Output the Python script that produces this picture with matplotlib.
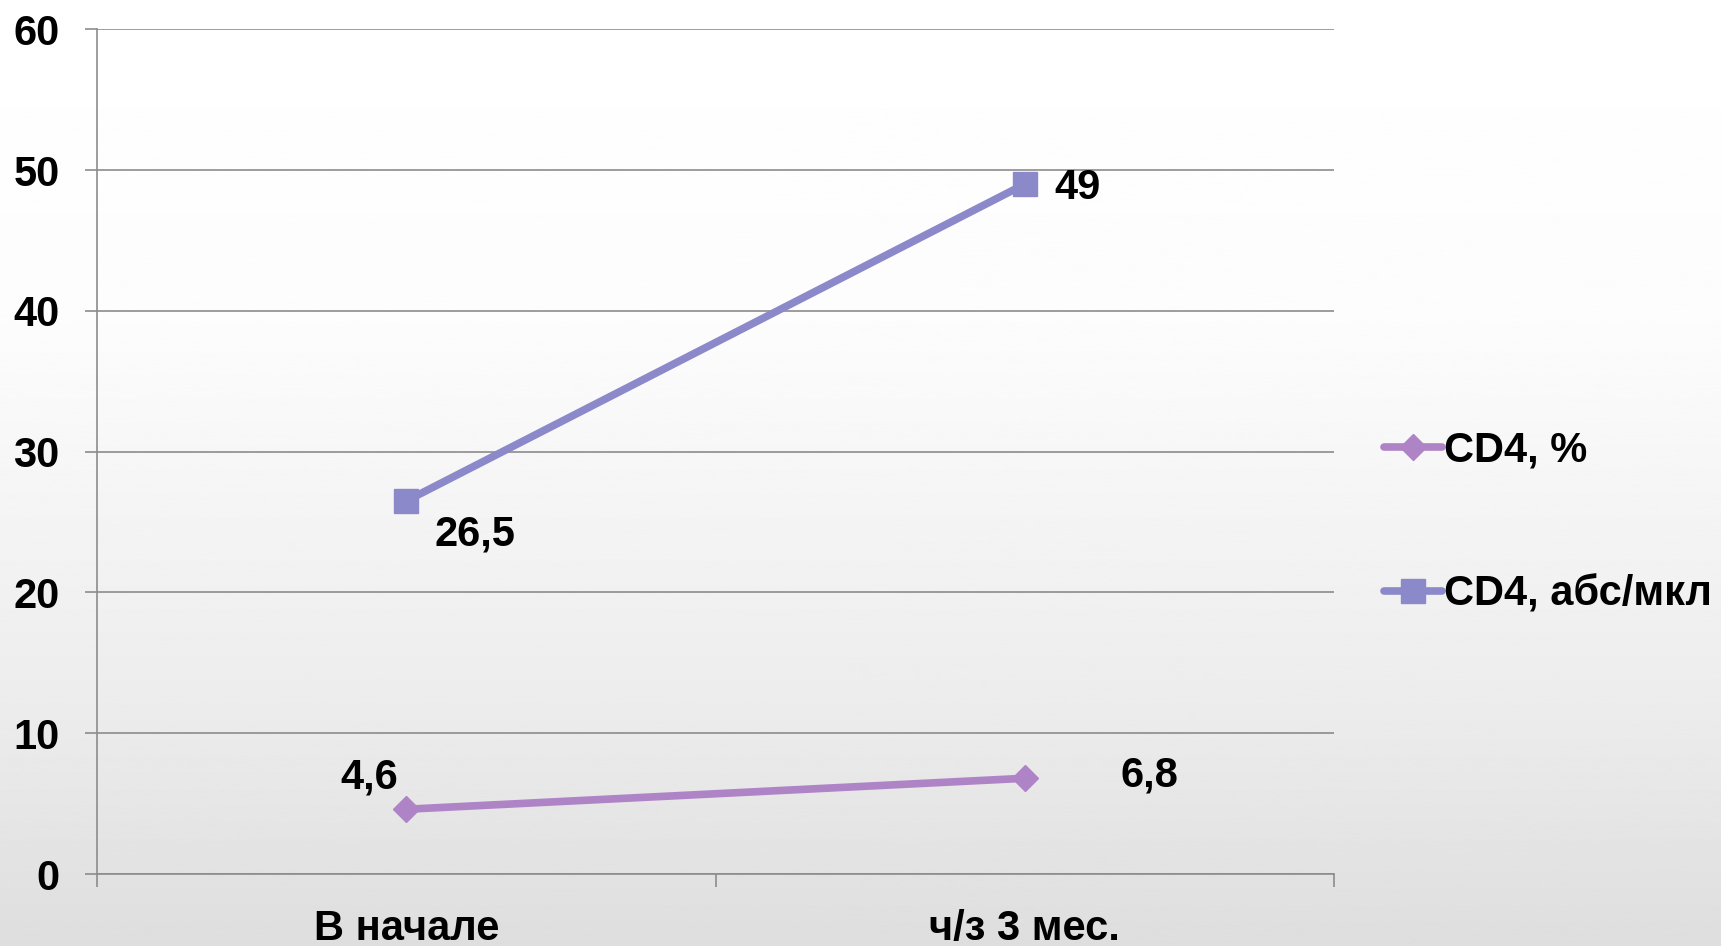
import numpy as np
import matplotlib
matplotlib.use("Agg")
import matplotlib.pyplot as plt

plt.rcParams['font.family'] = ['Liberation Sans', 'DejaVu Sans']
plt.rcParams['font.weight'] = 'bold'

# Data
categories = ["В начале", "ч/з 3 мес."]
cd4_pct = [4.6, 6.8]
cd4_abs = [26.5, 49]
series_names = ["CD4, %", "CD4, абс/мкл"]
pct_labels = ["4,6", "6,8"]
abs_labels = ["26,5", "49"]
y_ticks = [0, 10, 20, 30, 40, 50, 60]

col_pct = "#ae84c6"
col_abs = "#8b89ca"
grid_col = "#8c8c8c"

fig = plt.figure(figsize=(17.21, 9.46), dpi=100)

# background gradient, white at top going to light grey at the bottom
bg = fig.add_axes([0, 0, 1, 1], zorder=-10)
f = np.linspace(0, 1, 400)
shade = np.interp(f, [0, 0.35, 0.75, 1.0], [1.0, 0.988, 0.925, 0.87])
bg.imshow(shade[:, None], aspect='auto', cmap='gray', vmin=0, vmax=1,
          extent=[0, 1, 0, 1])
bg.set_axis_off()

ax = fig.add_axes([0.0564, 0.0761, 0.7187, 0.8929])
ax.set_facecolor('none')

x = np.arange(len(categories))
ax.plot(x, cd4_pct, color=col_pct, lw=5.5, marker='D', ms=13,
        label=series_names[0], solid_capstyle='round')
ax.plot(x, cd4_abs, color=col_abs, lw=5.5, marker='s', ms=17,
        label=series_names[1], solid_capstyle='round')

# value labels
fs = 30
pct_offsets = [(-27, 23), (69, 2)]
abs_offsets = [(20, -24), (21, -3)]
for i in range(len(categories)):
    dx, dy = pct_offsets[i]
    ha = 'center' if dx < 0 else 'left'
    ax.annotate(pct_labels[i], (x[i], cd4_pct[i]), xytext=(dx, dy),
                textcoords='offset points', ha=ha, va='center',
                fontsize=fs, fontweight='bold')
    dx, dy = abs_offsets[i]
    ax.annotate(abs_labels[i], (x[i], cd4_abs[i]), xytext=(dx, dy),
                textcoords='offset points', ha='left', va='center',
                fontsize=fs, fontweight='bold')

ax.set_xlim(-0.5, 1.5)
ax.set_ylim(0, 60)
ax.set_yticks(y_ticks)
ax.set_yticklabels([str(v) for v in y_ticks], fontsize=fs, fontweight='bold')
ax.yaxis.grid(True, color=grid_col, lw=1.2)
ax.set_axisbelow(True)

ax.set_xticks([-0.5, 0.5, 1.5])
ax.set_xticklabels([])
ax.set_xticks(x, minor=True)
ax.set_xticklabels(categories, minor=True, fontsize=fs, fontweight='bold')
ax.tick_params(axis='x', which='major', length=9, width=1.2, color=grid_col)
ax.tick_params(axis='x', which='minor', length=0, pad=25)
ax.tick_params(axis='y', length=9, width=1.2, color=grid_col, pad=18)

for side in ['top', 'right']:
    ax.spines[side].set_visible(False)
for side in ['left', 'bottom']:
    ax.spines[side].set_color(grid_col)
    ax.spines[side].set_linewidth(1.2)

ax.legend(loc='center left', bbox_to_anchor=(0.804, 0.4475),
          bbox_transform=fig.transFigure, frameon=False,
          prop={'weight': 'bold', 'size': fs},
          handlelength=1.4, handletextpad=0.05, labelspacing=2.5,
          borderaxespad=0, borderpad=0)

fig.savefig("out.png", dpi=100)
